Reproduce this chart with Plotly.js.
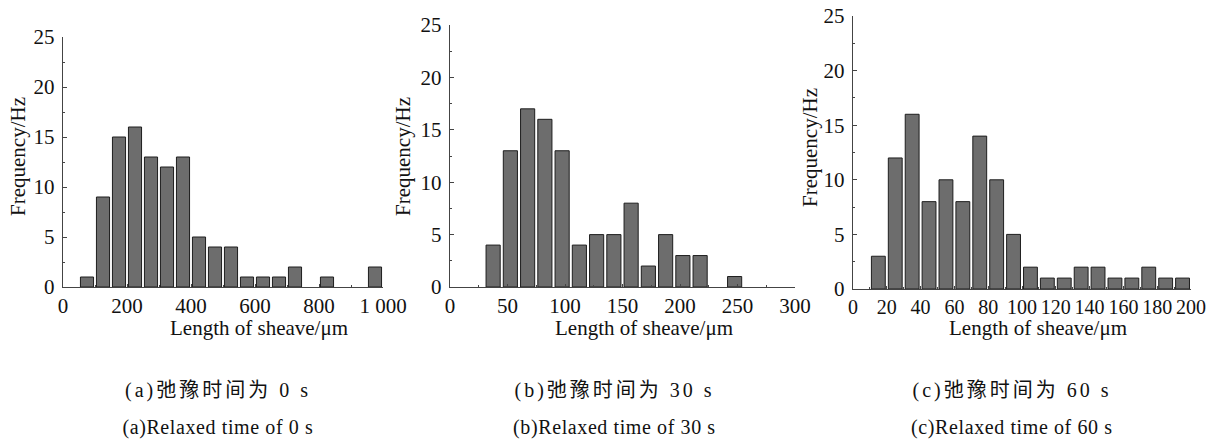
<!DOCTYPE html>
<html>
<head>
<meta charset="utf-8">
<script src="https://cdn.plot.ly/plotly-3.0.1.min.js"></script>
<style>body{margin:0;padding:0;background:#fff;}#chart{width:1213px;height:439px;}</style>
</head>
<body>
<div id="chart"></div>
<script>
// Panel (a): relaxed time 0 s, bin width 50 um
const binsA = [75,125,175,225,275,325,375,425,475,525,575,625,675,725,775,825,875,925,975];
const countsA = [1,9,15,16,13,12,13,5,4,4,1,1,1,2,0,1,0,0,2];
// Panel (b): relaxed time 30 s, bin width 15 um
const binsB = [37.5,52.5,67.5,82.5,97.5,112.5,127.5,142.5,157.5,172.5,187.5,202.5,217.5,232.5,247.5];
const countsB = [4,13,17,16,13,4,5,5,8,2,5,3,3,0,1];
// Panel (c): relaxed time 60 s, bin width 10 um
const binsC = [15,25,35,45,55,65,75,85,95,105,115,125,135,145,155,165,175,185,195];
const countsC = [3,12,16,8,10,8,14,10,5,2,1,1,2,2,1,1,2,1,1];

const tickValsA = [0,200,400,600,800,1000];
const tickTextA = ['0','200','400','600','800','1 000'];
const tickValsB = [0,50,100,150,200,250,300];
const tickValsC = [0,20,40,60,80,100,120,140,160,180,200];
const yTicks = [0,5,10,15,20,25];

const yTitle = 'Frequency/Hz';
const xTitle = 'Length of sheave/μm';
const capCN = ['(a)弛豫时间为 0 s','(b)弛豫时间为 30 s','(c)弛豫时间为 60 s'];
const capEN = ['(a)Relaxed time of 0 s','(b)Relaxed time of 30 s','(c)Relaxed time of 60 s'];

const serif = 'Liberation Serif, Times New Roman, serif';
const capFont = 'Liberation Serif, Noto Sans CJK SC, serif';
const W = 1213, H = 439;
const fx = p => p / W;
const fy = p => 1 - p / H;
const hideZero = arr => arr.map(v => v === 0 ? null : v);

const barStyle = {color:'#6d6d6d', line:{color:'#1e1e1e', width:1}};
const traces = [
  {type:'bar', x:binsA, y:hideZero(countsA), xaxis:'x', yaxis:'y', marker:barStyle},
  {type:'bar', x:binsB, y:hideZero(countsB), xaxis:'x2', yaxis:'y2', marker:barStyle},
  {type:'bar', x:binsC, y:hideZero(countsC), xaxis:'x3', yaxis:'y3', marker:barStyle}
];

function xax(domain, range, vals, text, minorD, anchor, fs){
  const a = {domain:domain, range:range, anchor:anchor, tickmode:'array', tickvals:vals,
    showgrid:false, zeroline:false, showline:true, linecolor:'#444', linewidth:1.2,
    ticks:'inside', ticklen:3, tickcolor:'#444', tickwidth:1,
    minor:{dtick:minorD, ticks:'inside', ticklen:2, tickcolor:'#444'},
    tickfont:{family:serif, size:fs, color:'#111'}, fixedrange:true};
  if (text) a.ticktext = text;
  return a;
}
function yax(domain, anchor){
  return {domain:domain, range:[0,25], anchor:anchor, tickmode:'array', tickvals:yTicks,
    showgrid:false, zeroline:false, showline:true, linecolor:'#444', linewidth:1.2,
    ticks:'inside', ticklen:4, tickcolor:'#444', tickwidth:1,
    minor:{dtick:2.5, ticks:'inside', ticklen:2, tickcolor:'#444'},
    tickfont:{family:serif, size:21, color:'#111'}, ticklabelstandoff:3, fixedrange:true};
}

const ann = [];
const xTitlePos = [[259,328],[644,328],[1038,328]];
const yTitlePos = [[18,157],[403,157],[810,148]];
const capX = [218,614,1012];
for (let i=0;i<3;i++){
  ann.push({xref:'paper', yref:'paper', x:fx(xTitlePos[i][0]), y:fy(xTitlePos[i][1]), text:xTitle,
    showarrow:false, xanchor:'center', yanchor:'middle', font:{family:serif, size:21, color:'#111'}});
  ann.push({xref:'paper', yref:'paper', x:fx(yTitlePos[i][0]), y:fy(yTitlePos[i][1]), text:yTitle,
    textangle:-90, showarrow:false, xanchor:'center', yanchor:'middle', font:{family:serif, size:21, color:'#111'}});
  ann.push({xref:'paper', yref:'paper', x:fx(capX[i]), y:fy(390), text:capCN[i],
    showarrow:false, xanchor:'center', yanchor:'middle', font:{family:capFont, size:20, color:'#111'}});
  ann.push({xref:'paper', yref:'paper', x:fx(capX[i]), y:fy(427), text:capEN[i],
    showarrow:false, xanchor:'center', yanchor:'middle', font:{family:capFont, size:20, color:'#111'}});
}

const layout = {
  width:W, height:H, margin:{l:0,r:0,t:0,b:0}, paper_bgcolor:'#fff', plot_bgcolor:'#fff',
  showlegend:false, bargap:0.18,
  xaxis: xax([fx(63), fx(383)], [0,1000], tickValsA, tickTextA, 100, 'y', 21),
  yaxis: yax([fy(287), fy(37)], 'x'),
  xaxis2: xax([fx(450), fx(795)], [0,300], tickValsB, null, 25, 'y2', 21),
  yaxis2: yax([fy(287), fy(25)], 'x2'),
  xaxis3: xax([fx(853), fx(1191)], [0,200], tickValsC, null, 10, 'y3', 20),
  yaxis3: yax([fy(289), fy(16)], 'x3'),
  annotations: ann
};

Plotly.newPlot('chart', traces, layout, {displayModeBar:false, staticPlot:true}).then(() => {
  document.querySelectorAll('g.annotation text').forEach(t => {
    const s = t.textContent;
    if (capCN.includes(s)) t.style.letterSpacing = '3px';
    else if (capEN.includes(s)) t.style.letterSpacing = '0.6px';
  });
});
</script>
</body>
</html>
